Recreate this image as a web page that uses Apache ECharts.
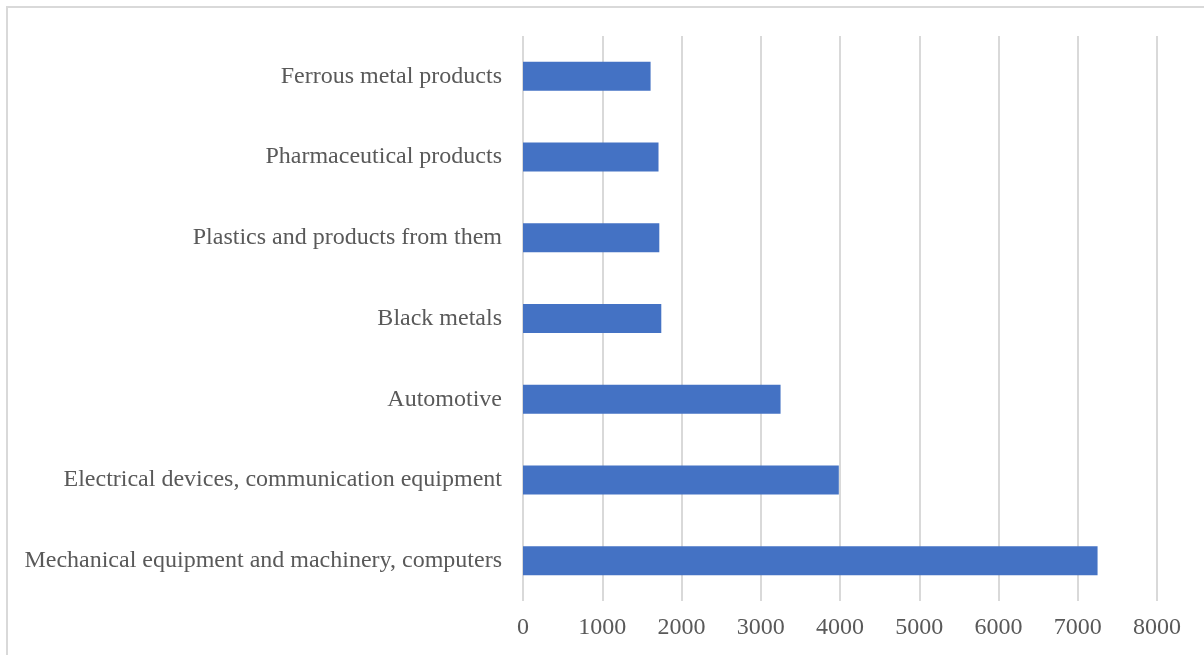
<!DOCTYPE html>
<html>
<head>
<meta charset="utf-8">
<script src="https://cdn.jsdelivr.net/npm/echarts@6/dist/echarts.min.js"></script>
<style>
html,body{margin:0;padding:0;background:#fff;}
#frame{position:absolute;left:6px;top:6px;width:1198px;height:649px;border-top:2px solid #d9d9d9;border-left:2px solid #d9d9d9;box-sizing:border-box;}
#chart{position:absolute;left:0;top:0;width:1204px;height:655px;}
</style>
</head>
<body>
<div id="frame"></div>
<div id="chart"></div>
<script>
const categories = [
  "Ferrous metal products",
  "Pharmaceutical products",
  "Plastics and products from them",
  "Black metals",
  "Automotive",
  "Electrical devices, communication equipment",
  "Mechanical equipment and machinery, computers"
];
const values = [1610, 1710, 1720, 1745, 3250, 3985, 7250];
const xTicks = { min: 0, max: 8000, interval: 1000 };

const chart = echarts.init(document.getElementById('chart'));
chart.setOption({
  animation: false,
  grid: { left: 523, right: 47, top: 36, bottom: 54 },
  xAxis: {
    type: 'value',
    min: xTicks.min, max: xTicks.max, interval: xTicks.interval,
    axisLine: { show: false },
    axisTick: { show: false },
    axisLabel: { color: '#595959', fontFamily: 'Liberation Serif', fontSize: 24, margin: 15, formatter: v => String(v) },
    splitLine: { show: true, lineStyle: { color: '#d9d9d9', width: 2 } }
  },
  yAxis: {
    type: 'category',
    data: categories,
    inverse: true,
    axisLine: { show: false },
    axisTick: { show: false },
    axisLabel: { color: '#595959', fontFamily: 'Liberation Serif', fontSize: 24, margin: 21 },
    splitLine: { show: false }
  },
  series: [{
    type: 'bar',
    data: values,
    barWidth: 29,
    itemStyle: { color: '#4472c4' }
  }]
});
</script>
</body>
</html>
